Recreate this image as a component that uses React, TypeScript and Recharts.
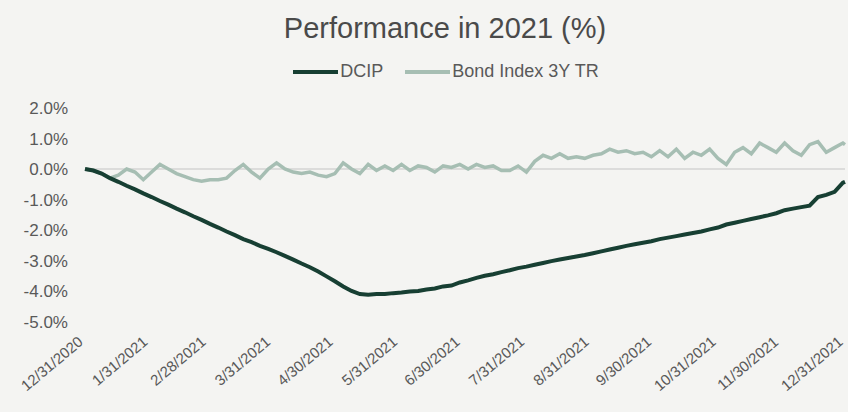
import { LineChart, Line, XAxis, YAxis, ReferenceLine, Legend } from 'recharts';

const title = 'Performance in 2021 (%)';

// days since 12/31/2020
const days = [
  0, 4, 8, 12, 16, 20, 24, 28, 32, 36,
  40, 44, 48, 52, 56, 60, 64, 68, 72, 76,
  80, 84, 88, 92, 96, 100, 104, 108, 112, 116,
  120, 124, 128, 132, 136, 140, 144, 148, 152, 156,
  160, 164, 168, 172, 176, 180, 184, 188, 192, 196,
  200, 204, 208, 212, 216, 220, 224, 228, 232, 236,
  240, 244, 248, 252, 256, 260, 264, 268, 272, 276,
  280, 284, 288, 292, 296, 300, 304, 308, 312, 316,
  320, 324, 328, 332, 336, 340, 344, 348, 352, 356,
  360, 364, 365,
];

const dcip = [
  0, -0.05, -0.15, -0.3, -0.42, -0.55, -0.67, -0.8, -0.92, -1.05,
  -1.17, -1.3, -1.42, -1.55, -1.67, -1.8, -1.92, -2.05, -2.17, -2.3,
  -2.4, -2.52, -2.62, -2.73, -2.85, -2.97, -3.1, -3.22, -3.36, -3.52,
  -3.68, -3.85, -4.0, -4.1, -4.12, -4.1, -4.1, -4.07, -4.05, -4.02,
  -4.0, -3.95, -3.92, -3.85, -3.82, -3.72, -3.65, -3.57, -3.5, -3.45,
  -3.38, -3.32, -3.25, -3.2, -3.14, -3.08, -3.02, -2.97, -2.92, -2.87,
  -2.82, -2.76, -2.7, -2.64, -2.58, -2.52, -2.47, -2.42, -2.37, -2.3,
  -2.25, -2.2, -2.15, -2.1, -2.05, -1.98, -1.92, -1.82, -1.76, -1.7,
  -1.64, -1.58, -1.52, -1.45, -1.35, -1.3, -1.25, -1.2, -0.92, -0.85,
  -0.75, -0.45, -0.42,
];

const bond = [
  0, -0.05, -0.15, -0.3, -0.2, 0.0, -0.1, -0.35, -0.1, 0.15,
  0.0, -0.15, -0.25, -0.35, -0.4, -0.35, -0.35, -0.3, -0.05, 0.15,
  -0.1, -0.3, 0.0, 0.2, 0.0, -0.1, -0.15, -0.1, -0.2, -0.25,
  -0.15, 0.2, 0.0, -0.15, 0.15, -0.05, 0.1, -0.05, 0.15, -0.05,
  0.1, 0.05, -0.1, 0.1, 0.05, 0.15, 0.0, 0.15, 0.05, 0.1,
  -0.05, -0.05, 0.1, -0.1, 0.25, 0.45, 0.35, 0.5, 0.35, 0.4,
  0.35, 0.45, 0.5, 0.65, 0.55, 0.6, 0.5, 0.55, 0.4, 0.6,
  0.4, 0.65, 0.35, 0.55, 0.45, 0.65, 0.35, 0.15, 0.55, 0.7,
  0.5, 0.85, 0.7, 0.55, 0.85, 0.6, 0.45, 0.8, 0.9, 0.55,
  0.7, 0.85, 0.8,
];

const monthEndDays = [0, 31, 59, 90, 120, 151, 181, 212, 243, 273, 304, 334, 365];
const monthLabels = [
  '12/31/2020', '1/31/2021', '2/28/2021', '3/31/2021', '4/30/2021', '5/31/2021', '6/30/2021',
  '7/31/2021', '8/31/2021', '9/30/2021', '10/31/2021', '11/30/2021', '12/31/2021',
];
const yTicks = [2, 1, 0, -1, -2, -3, -4, -5];

const DARK = '#173f33';
const LIGHT = '#a6beb3';
const TEXT = '#595959';
const FONT = '"Liberation Sans", Arial, sans-serif';

const data = days.map((d, i) => ({ day: d, dcip: dcip[i], bond: bond[i] }));

function DateTick(props: any) {
  const { x, y, payload } = props;
  const idx = monthEndDays.indexOf(payload.value);
  const tx = x - 1;
  const ty = y + 22;
  return (
    <text
      x={tx}
      y={ty}
      transform={`rotate(-40, ${tx}, ${ty})`}
      textAnchor="end"
      fill={TEXT}
      fontSize={15}
      fontFamily={FONT}
    >
      {monthLabels[idx]}
    </text>
  );
}

function renderLegend() {
  const items = [
    { name: 'DCIP', color: DARK },
    { name: 'Bond Index 3Y TR', color: LIGHT },
  ];
  return (
    <div style={{ display: 'flex', justifyContent: 'center', paddingLeft: 44, gap: 22 }}>
      {items.map((it) => (
        <div key={it.name} style={{ display: 'flex', alignItems: 'center' }}>
          <span style={{ display: 'inline-block', width: 45, height: 4, background: it.color, marginRight: 2 }} />
          <span style={{ fontSize: 18, color: TEXT, fontFamily: FONT }}>{it.name}</span>
        </div>
      ))}
    </div>
  );
}

export default function App() {
  return (
    <div style={{ position: 'absolute', left: 0, top: 0, width: 848, height: 412, background: '#f4f4f2' }}>
      <div
        style={{
          position: 'absolute',
          left: 0,
          top: 14,
          width: 890,
          textAlign: 'center',
          fontFamily: FONT,
          fontSize: 29,
          lineHeight: '29px',
          color: '#4a4a4a',
        }}
      >
        {title}
      </div>
      <LineChart width={848} height={412} data={data} margin={{ top: 108, right: 3, left: 0, bottom: 0 }}>
        <XAxis
          dataKey="day"
          type="number"
          domain={[0, 365]}
          ticks={monthEndDays}
          tick={<DateTick />}
          axisLine={false}
          tickLine={false}
          tickSize={0}
          tickMargin={0}
          height={90.5}
          interval={0}
        />
        <YAxis
          domain={[-5, 2]}
          ticks={yTicks}
          tickFormatter={(v: number) => `${v.toFixed(1)}%`}
          axisLine={false}
          tickLine={false}
          tickSize={0}
          tickMargin={17}
          width={85}
          interval={0}
          tick={{ fill: TEXT, fontSize: 17, fontFamily: FONT }}
        />
        <Legend
          verticalAlign="middle"
          content={renderLegend}
          wrapperStyle={{ top: 61, left: 0, width: 848 }}
        />
        <ReferenceLine y={0} stroke="#c4c4c4" strokeWidth={1} />
        <Line
          type="linear"
          dataKey="bond"
          name="Bond Index 3Y TR"
          stroke={LIGHT}
          strokeWidth={3.5}
          dot={false}
          isAnimationActive={false}
        />
        <Line
          type="linear"
          dataKey="dcip"
          name="DCIP"
          stroke={DARK}
          strokeWidth={4}
          dot={false}
          isAnimationActive={false}
        />
      </LineChart>
    </div>
  );
}
